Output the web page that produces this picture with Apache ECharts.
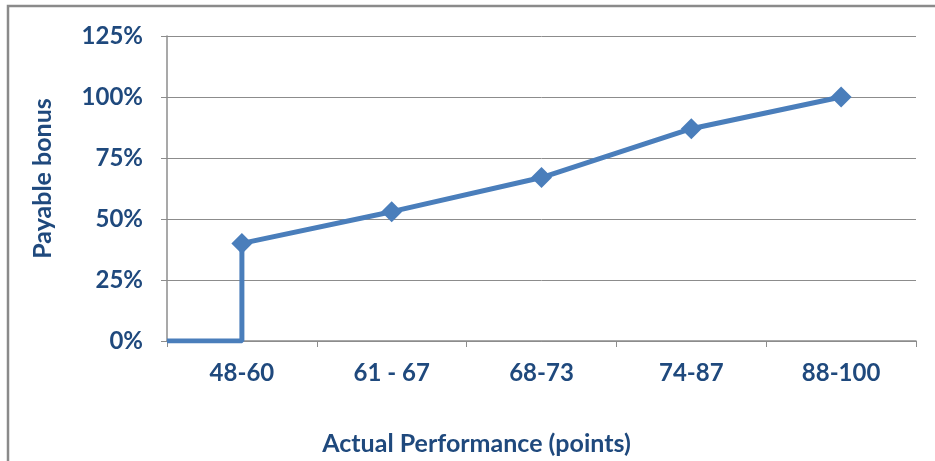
<!DOCTYPE html>
<html>
<head>
<meta charset="utf-8">
<script src="https://cdn.jsdelivr.net/npm/echarts@6/dist/echarts.min.js"></script>
<style>
html,body{margin:0;padding:0;background:#fff;}
#chart{width:935px;height:461px;}
</style>
</head>
<body>
<div id="chart"></div>
<script>
// ---- data ----
const categories = ['48-60', '61 - 67', '68-73', '74-87', '88-100'];
const bonusValues = [40, 53, 67, 87, 100];      // payable bonus (%) per band
const belowThresholdBonus = 0;                   // bonus below the first band
const yTicks = [0, 25, 50, 75, 100, 125];

const xTitle = 'Actual Performance (points)';
const yTitle = 'Payable bonus';

// build the line: flat zero segment up to the first band, then band values at band centres
const linePoints = [
  { value: [0, belowThresholdBonus], symbol: 'none' },
  { value: [0.5, belowThresholdBonus], symbol: 'none' }
].concat(bonusValues.map((v, i) => ({ value: [i + 0.5, v] })));

const textColor = '#1f497d';
const fontFamily = 'Lato, "Open Sans", sans-serif';

const chart = echarts.init(document.getElementById('chart'), null, { renderer: 'canvas' });
chart.setOption({
  backgroundColor: '#fff',
  animation: false,
  graphic: [{
    type: 'rect',
    shape: { x: 8, y: 6, width: 1200, height: 1200 },
    style: { fill: 'none', stroke: '#8a8a8a', lineWidth: 2.5 },
    silent: true, z: 100
  }],
  grid: { left: 167, right: 19, top: 36, bottom: 120 },
  xAxis: [{
    type: 'category',
    data: categories,
    boundaryGap: true,
    name: xTitle,
    nameLocation: 'middle',
    nameGap: 90,
    nameTextStyle: { color: textColor, fontFamily, fontWeight: 'bold', fontSize: 25, padding: [0, 130, 0, 0] },
    axisLine: { lineStyle: { color: '#8c8c8c', width: 1.5 } },
    axisTick: { show: true, length: 6, lineStyle: { color: '#8c8c8c' } },
    axisLabel: { color: textColor, fontFamily, fontWeight: 'bold', fontSize: 24, margin: 20 },
    splitLine: { show: false }
  }, {
    type: 'value',
    min: 0,
    max: categories.length,
    show: false
  }],
  yAxis: {
    type: 'value',
    min: yTicks[0],
    max: yTicks[yTicks.length - 1],
    interval: yTicks[1] - yTicks[0],
    name: yTitle,
    nameLocation: 'middle',
    nameGap: 112,
    nameTextStyle: { color: textColor, fontFamily, fontWeight: 'bold', fontSize: 25, padding: [0, 0, 0, 20] },
    axisLine: { show: true, lineStyle: { color: '#8c8c8c', width: 1.5 } },
    axisTick: { show: true, length: 6, lineStyle: { color: '#8c8c8c' } },
    axisLabel: { color: textColor, fontFamily, fontWeight: 'bold', fontSize: 24, margin: 24, formatter: '{value}%' },
    splitLine: { show: true, lineStyle: { color: '#8c8c8c', width: 1 } }
  },
  series: [{
    type: 'line',
    xAxisIndex: 1,
    data: linePoints,
    symbol: 'diamond',
    symbolSize: 21,
    lineStyle: { color: '#4a7ebb', width: 5 },
    itemStyle: { color: '#4a7ebb' },
    z: 5
  }]
});
</script>
</body>
</html>
